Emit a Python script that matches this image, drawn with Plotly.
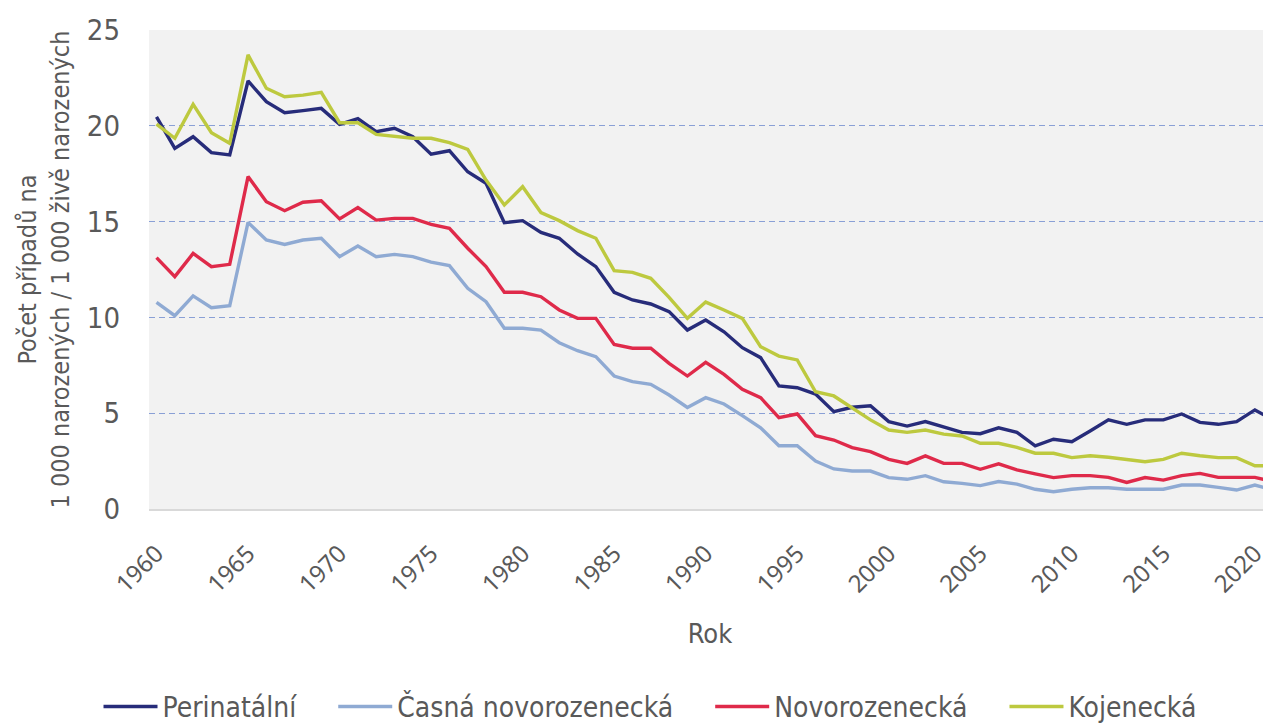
import plotly.graph_objects as go

years = list(range(1960, 2022))

perinatalni = [20.47, 18.82, 19.43, 18.6, 18.48, 22.34, 21.26, 20.68, 20.79, 20.91,
               20.08, 20.37, 19.69, 19.87, 19.43, 18.52, 18.7, 17.6, 17.0, 14.94,
               15.05, 14.44, 14.13, 13.31, 12.65, 11.31, 10.91, 10.7, 10.3, 9.34,
               9.86, 9.25, 8.42, 7.9, 6.42, 6.33, 6.0, 5.08, 5.31, 5.39,
               4.56, 4.33, 4.56, 4.3, 4.0, 3.93, 4.24, 4.0, 3.29, 3.64,
               3.51, 4.07, 4.65, 4.42, 4.65, 4.65, 4.96, 4.52, 4.42, 4.56,
               5.17, 4.65]

casna = [10.79, 10.09, 11.12, 10.51, 10.61, 14.96, 14.04, 13.81, 14.04, 14.13,
         13.17, 13.73, 13.17, 13.29, 13.17, 12.88, 12.7, 11.52, 10.82, 9.43,
         9.43, 9.34, 8.68, 8.26, 7.95, 6.94, 6.65, 6.51, 5.95, 5.3,
         5.81, 5.48, 4.87, 4.24, 3.3, 3.3, 2.5, 2.09, 1.98, 1.98,
         1.64, 1.55, 1.74, 1.42, 1.34, 1.22, 1.43, 1.3, 1.03, 0.9,
         1.03, 1.11, 1.11, 1.03, 1.03, 1.03, 1.25, 1.25, 1.13, 0.99,
         1.25, 1.0]

novorozenecka = [13.12, 12.13, 13.34, 12.65, 12.77, 17.35, 16.04, 15.57, 16.01, 16.09,
                 15.14, 15.73, 15.08, 15.17, 15.17, 14.85, 14.65, 13.61, 12.65, 11.31,
                 11.31, 11.08, 10.39, 9.95, 9.95, 8.59, 8.39, 8.39, 7.6, 6.94,
                 7.65, 7.03, 6.25, 5.81, 4.77, 4.96, 3.83, 3.6, 3.2, 2.99,
                 2.59, 2.38, 2.77, 2.38, 2.38, 2.07, 2.36, 2.04, 1.83, 1.64,
                 1.74, 1.74, 1.65, 1.39, 1.64, 1.51, 1.74, 1.86, 1.65, 1.65,
                 1.65, 1.43]

kojenecka = [20.09, 19.35, 21.12, 19.64, 19.09, 23.7, 21.96, 21.52, 21.6, 21.75,
             20.16, 20.16, 19.55, 19.43, 19.35, 19.35, 19.12, 18.77, 17.17, 15.87,
             16.82, 15.47, 15.05, 14.53, 14.13, 12.44, 12.35, 12.04, 11.05, 9.95,
             10.8, 10.39, 9.95, 8.47, 7.98, 7.78, 6.12, 5.9, 5.26, 4.65,
             4.12, 4.0, 4.12, 3.91, 3.81, 3.43, 3.43, 3.22, 2.91, 2.91,
             2.68, 2.78, 2.7, 2.59, 2.47, 2.59, 2.91, 2.78, 2.68, 2.68,
             2.26, 2.26]

series_names = ["Perinatální", "Časná novorozenecká", "Novorozenecká", "Kojenecká"]
series_values = [perinatalni, casna, novorozenecka, kojenecka]
series_colors = ["#272c7a", "#8faad3", "#df2a4a", "#bdc93f"]

x_tick_vals = list(range(1960, 2021, 5))
y_tick_vals = [0, 5, 10, 15, 20, 25]

narrow = "DejaVu Sans Condensed, Liberation Sans, sans-serif"
text_color = "#595959"

fig = go.Figure()
for name, vals, col in zip(series_names, series_values, series_colors):
    fig.add_trace(go.Scatter(
        x=years, y=vals, mode="lines", name=name + "\u00a0" * 4,
        line=dict(color=col, width=3.4),
    ))

fig.update_layout(
    width=1263, height=717,
    margin=dict(l=141, r=0, t=22, b=216, autoexpand=False),
    paper_bgcolor="white",
    plot_bgcolor="#f2f2f2",
    font=dict(family=narrow, color=text_color, size=27),
    showlegend=True,
    legend=dict(
        orientation="h",
        x=-0.045, xanchor="left",
        y=-0.413, yanchor="middle",
        itemwidth=54,
        font=dict(family=narrow, size=28, color=text_color),
        bgcolor="rgba(0,0,0,0)",
    ),
    xaxis=dict(
        range=[1959.59, 2020.88],
        automargin=False,
        tickmode="array", tickvals=x_tick_vals,
        ticktext=[str(v) for v in x_tick_vals],
        tickangle=-45,
        tickfont=dict(family="Noto Sans, Open Sans, sans-serif", size=24, color=text_color),
        showgrid=False,
        showline=True, linecolor="#d9d9d9", linewidth=2,
        ticks="", zeroline=False,
        ticklabelstandoff=19,
        title=dict(text="Rok", font=dict(family=narrow, size=27, color=text_color), standoff=26),
    ),
    yaxis=dict(
        range=[0, 25],
        automargin=False,
        tickmode="array", tickvals=y_tick_vals,
        tickfont=dict(family=narrow, size=29, color=text_color),
        showgrid=True, gridcolor="#8aa0d6", gridwidth=1.4, griddash="6px,4px",
        zeroline=False, showline=False, ticks="",
        ticklabelstandoff=28,
        title=dict(text="Počet případů na<br>1 000 narozených / 1 000 živě narozených",
                   font=dict(family=narrow, size=25, color=text_color), standoff=10),
    ),
)

fig.write_html("out.html")
